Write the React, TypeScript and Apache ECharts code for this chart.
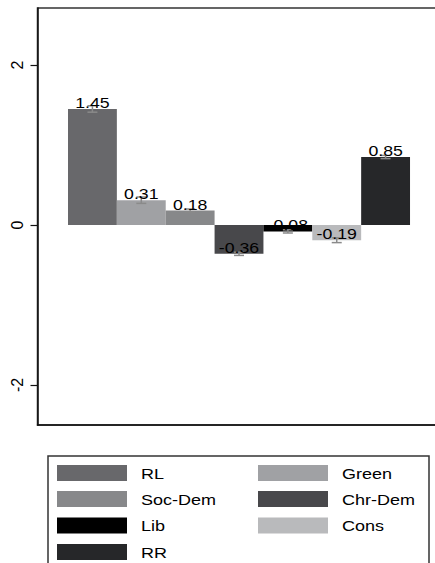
import React, { useEffect, useRef } from "react";
import * as echarts from "echarts";

const categories = ["RL", "Green", "Soc-Dem", "Chr-Dem", "Lib", "Cons", "RR"];
const values = [1.45, 0.31, 0.18, -0.36, -0.08, -0.19, 0.85];
const errors = [0.04, 0.04, 0.02, 0.02, 0.02, 0.03, 0.02];
const colors = ["#68686b", "#a0a1a4", "#87888a", "#48484b", "#000000", "#b9babc", "#262729"];
const yTicks = [-2, 0, 2];

const FONT = "'Liberation Sans', Arial, Helvetica, sans-serif";

export default function App() {
  const ref = useRef<HTMLDivElement>(null);
  useEffect(() => {
    if (!ref.current) return;
    const chart = echarts.init(ref.current, undefined, { renderer: "svg" });
    const unit = 48.86;
    const gridLeft = 37.5;
    const gridWidth = 420;
    const firstCenter = 92.43;
    const xMin = -(firstCenter - gridLeft) / unit;
    const xMax = xMin + gridWidth / unit;

    const barData = categories.map((c, i) => ({
      value: [i, values[i]],
      name: c,
      itemStyle: { color: colors[i] },
    }));
    const errData = categories.map((c, i) => [i, values[i], errors[i]]);
    const labelData = categories.map((c, i) => [i, values[i]]);

    const legendChildren: any[] = [
      {
        type: "rect",
        shape: { x: 48, y: 456, width: 381, height: 140 },
        style: { fill: "#fff", stroke: "#333", lineWidth: 1.5 },
      },
    ];
    const rowY = [473, 499, 525.5, 552];
    categories.forEach((c, i) => {
      const col = i % 2;
      const row = Math.floor(i / 2);
      const sx = col === 0 ? 57 : 258;
      const tx = col === 0 ? 141 : 342;
      legendChildren.push({
        type: "rect",
        shape: { x: sx, y: rowY[row] - 8, width: 70, height: 16 },
        style: { fill: colors[i] },
      });
      legendChildren.push({
        type: "text",
        x: tx,
        y: rowY[row] + 1,
        scaleX: 1.2,
        style: {
          text: c,
          fontSize: 15,
          fontFamily: FONT,
          fill: "#000",
          verticalAlign: "middle",
          align: "left",
        },
      });
    });

    chart.setOption({
      animation: false,
      backgroundColor: "#fff",
      grid: {
        left: gridLeft,
        top: 8,
        width: gridWidth,
        height: 417,
        show: true,
        borderColor: "#333",
        borderWidth: 1.5,
        backgroundColor: "transparent",
        containLabel: false,
        outerBoundsMode: "none",
      },
      xAxis: {
        type: "value",
        min: xMin,
        max: xMax,
        axisLine: { show: true, onZero: false, lineStyle: { color: "#111", width: 1.5 } },
        axisTick: { show: false },
        axisLabel: { show: false },
        splitLine: { show: false },
      },
      yAxis: {
        type: "value",
        min: -2.5,
        max: 2.7125,
        axisLine: { show: true, onZero: false, lineStyle: { color: "#111", width: 1.5 } },
        axisTick: {
          show: true,
          length: 7,
          customValues: yTicks,
          lineStyle: { color: "#111", width: 1.2 },
        },
        axisLabel: {
          show: true,
          customValues: yTicks,
          rotate: 90,
          margin: 12,
          fontSize: 16,
          fontFamily: FONT,
          color: "#000",
        },
        splitLine: { show: false },
      },
      series: [
        {
          type: "bar",
          data: barData,
          barWidth: unit,
          z: 2,
        },
        {
          type: "custom",
          z: 3,
          data: errData,
          renderItem: (params: any, api: any) => {
            const x = api.value(0);
            const v = api.value(1);
            const e = api.value(2);
            const top = api.coord([x, v + e]);
            const bot = api.coord([x, v - e]);
            const hw = 5;
            const st = { stroke: "#8a8a8a", lineWidth: 1.5 };
            return {
              type: "group",
              children: [
                { type: "line", shape: { x1: top[0], y1: top[1], x2: bot[0], y2: bot[1] }, style: st },
                { type: "line", shape: { x1: top[0] - hw, y1: top[1], x2: top[0] + hw, y2: top[1] }, style: st },
                { type: "line", shape: { x1: bot[0] - hw, y1: bot[1], x2: bot[0] + hw, y2: bot[1] }, style: st },
              ],
            };
          },
        },
        {
          type: "custom",
          z: 4,
          data: labelData,
          renderItem: (params: any, api: any) => {
            const x = api.value(0);
            const v = api.value(1);
            const p = api.coord([x, v]);
            return {
              type: "text",
              x: p[0],
              y: p[1] + 1,
              scaleX: 1.18,
              style: {
                text: v.toFixed(2),
                fontSize: 15,
                fontFamily: FONT,
                fill: "#000",
                align: "center",
                verticalAlign: "bottom",
              },
            };
          },
        },
      ],
      graphic: [{ type: "group", children: legendChildren }],
    });
    return () => chart.dispose();
  }, []);
  return (
    <div
      ref={ref}
      style={{ position: "fixed", left: 0, top: 0, width: 435, height: 563 }}
    />
  );
}
